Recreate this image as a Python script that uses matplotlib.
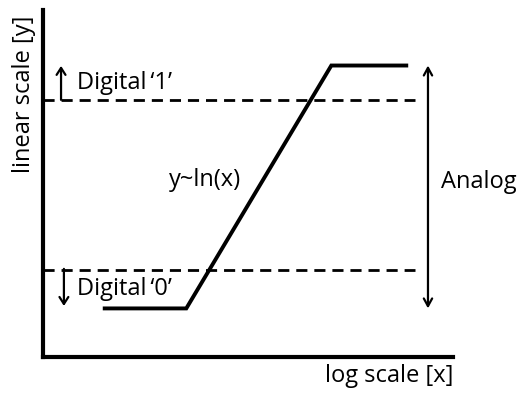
import matplotlib
matplotlib.use("Agg")
import matplotlib.pyplot as plt

plt.rcParams['font.family'] = ['Open Sans', 'DejaVu Sans']

# response curve (x on log scale, y linear)
curve_x = [4, 25, 650, 3500]
curve_y = [1.4, 1.4, 8.4, 8.4]
# digital thresholds
thresh_low = 2.5
thresh_high = 7.4
thresh_x_end = 4300
analog_x = 5700

fig = plt.figure(figsize=(5.23, 3.95), dpi=100)
ax = fig.add_axes([43/523, (395-357)/395, 410/523, 347/395])
ax.set_xscale('log')
ax.set_xlim(1, 1e4)
ax.set_ylim(0, 10)

ax.plot(curve_x, curve_y, color='black', lw=2.8, solid_joinstyle='miter', clip_on=False)
for t in (thresh_low, thresh_high):
    ax.plot([1, thresh_x_end], [t, t], color='black', lw=2.0, dashes=(4, 2.5))

ax.annotate('', xy=(analog_x, curve_y[-1]), xytext=(analog_x, curve_y[0]),
            arrowprops=dict(arrowstyle='<->,head_length=0.55,head_width=0.3', lw=1.6, color='black',
                            shrinkA=0, shrinkB=0))
# small arrows for digital levels
ax.annotate('', xy=(0.044, 0.839), xytext=(0.044, 0.741), xycoords='axes fraction',
            arrowprops=dict(arrowstyle='->,head_length=0.5,head_width=0.32', lw=1.6, color='black',
                            shrinkA=0, shrinkB=0))
ax.annotate('', xy=(0.051, 0.147), xytext=(0.051, 0.254), xycoords='axes fraction',
            arrowprops=dict(arrowstyle='->,head_length=0.5,head_width=0.32', lw=1.6, color='black',
                            shrinkA=0, shrinkB=0))

fs = 17
ax.text(0.083, 0.79, 'Digital\u2009‘1’', transform=ax.transAxes, fontsize=fs, va='center', ha='left',
        family=['Open Sans', 'DejaVu Sans'])
ax.text(0.083, 0.196, 'Digital\u2009‘0’', transform=ax.transAxes, fontsize=fs, va='center', ha='left',
        family=['Open Sans', 'DejaVu Sans'])
ax.text(0.395, 0.51, 'y~ln(x)', transform=ax.transAxes, fontsize=fs, va='center', ha='center')
ax.text(0.971, 0.504, 'Analog', transform=ax.transAxes, fontsize=fs, va='center', ha='left', clip_on=False)

ax.set_xlabel('log scale [x]', fontsize=fs, loc='right', labelpad=5)
ax.set_ylabel('linear scale [y]', fontsize=fs, loc='top', labelpad=5)
ax.yaxis.label.set_y(0.985)

for s in ('top', 'right'):
    ax.spines[s].set_visible(False)
for s in ('left', 'bottom'):
    ax.spines[s].set_linewidth(3)
ax.set_xticks([])
ax.set_yticks([])
ax.xaxis.set_minor_locator(matplotlib.ticker.NullLocator())

fig.savefig('out.png', dpi=100)
